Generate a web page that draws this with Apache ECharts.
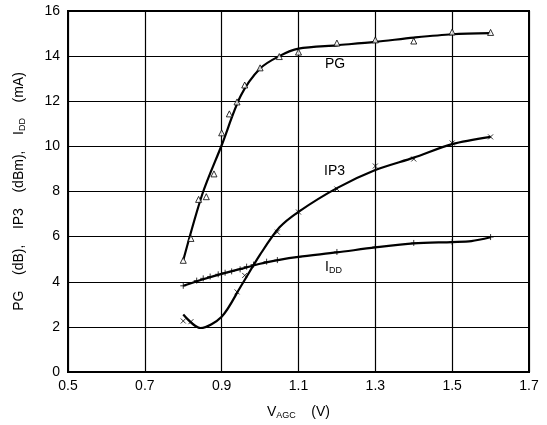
<!DOCTYPE html>
<html>
<head>
<meta charset="utf-8">
<script src="https://cdn.jsdelivr.net/npm/echarts@6/dist/echarts.min.js"></script>
<style>
  html, body { margin: 0; padding: 0; background: #fff; }
  #chart { width: 547px; height: 425px; }
</style>
</head>
<body>
<div id="chart"></div>
<script>
  // 测量点 (V_AGC, 值)
  var pgPoints = [[0.80, 4.95], [0.82, 5.92], [0.84, 7.65], [0.86, 7.77], [0.88, 8.78], [0.90, 10.6],
    [0.92, 11.44], [0.94, 11.97], [0.96, 12.72], [1.00, 13.48], [1.05, 13.98], [1.10, 14.18],
    [1.20, 14.58], [1.30, 14.72], [1.40, 14.67], [1.50, 15.07], [1.60, 15.05]]
  var ip3Points = [[0.80, 2.26], [0.82, 2.23], [0.94, 3.55], [0.96, 4.28], [1.045, 6.2], [1.10, 7.09],
    [1.20, 8.11], [1.30, 9.13], [1.40, 9.44], [1.50, 10.15], [1.60, 10.42]]
  var iddPoints = [[0.80, 3.82], [0.835, 4.05], [0.852, 4.15], [0.87, 4.23], [0.891, 4.33], [0.909, 4.40],
    [0.926, 4.46], [0.948, 4.55], [0.965, 4.67], [0.983, 4.76], [1.017, 4.89], [1.045, 4.96],
    [1.10, 5.1], [1.20, 5.32], [1.30, 5.54], [1.40, 5.72], [1.50, 5.76], [1.60, 5.98]]

  // 拟合曲线
  var pgCurve = [[0.80, 4.95], [0.85, 7.9], [0.90, 10.05], [0.95, 12.25], [1.00, 13.45], [1.05, 14.0],
    [1.10, 14.33], [1.20, 14.48], [1.30, 14.63], [1.40, 14.82], [1.50, 14.97], [1.60, 15.02]]
  var ip3Curve = [[0.80, 2.55], [0.845, 1.95], [0.90, 2.45], [0.95, 3.8], [1.00, 5.2], [1.05, 6.4],
    [1.10, 7.1], [1.20, 8.15], [1.30, 8.95], [1.40, 9.5], [1.50, 10.1], [1.60, 10.42]]
  var iddCurve = [[0.80, 3.82], [0.85, 4.1], [0.90, 4.35], [0.95, 4.57], [1.00, 4.8], [1.05, 4.97],
    [1.10, 5.1], [1.20, 5.3], [1.30, 5.52], [1.40, 5.7], [1.50, 5.76], [1.55, 5.8], [1.60, 5.97]]

  var xTicks = [0.5, 0.7, 0.9, 1.1, 1.3, 1.5, 1.7]
  var yTicks = [0, 2, 4, 6, 8, 10, 12, 14, 16]

  var font = 'Liberation Sans, Arial, sans-serif'
  var crossPath = 'path://M0,0L10,10M10,0L0,10'
  var plusPath = 'path://M5,0L5,10M0,5L10,5'

  var charts = echarts.init(document.getElementById('chart'))

  function curve(data) {
    return {
      type: 'line',
      data: data,
      smooth: 0.3,
      showSymbol: false,
      silent: true,
      lineStyle: { color: '#000', width: 2.2 },
      z: 3
    }
  }
  function marks(data, symbol, size, fill) {
    return {
      type: 'scatter',
      data: data,
      symbol: symbol,
      symbolSize: size,
      itemStyle: { color: fill, borderColor: '#000', borderWidth: 1 },
      z: 4
    }
  }

  var sub = {
    n: { fontSize: 14, fontFamily: font, color: '#000' },
    s: { fontSize: 9, fontFamily: font, color: '#000', padding: [7, 0, 0, 0] }
  }

  var option = {
    backgroundColor: '#fff',
    animation: false,
    grid: { left: 68, right: 18, top: 11, bottom: 53, show: true, borderColor: '#000', borderWidth: 2 },
    xAxis: {
      type: 'value',
      min: xTicks[0],
      max: xTicks[xTicks.length - 1],
      interval: 0.2,
      name: '{n|V}{s|AGC}{n|    (V)}',
      nameLocation: 'middle',
      nameGap: 32,
      nameTextStyle: { rich: sub },
      axisLine: { show: true, lineStyle: { color: '#000', width: 2 } },
      axisTick: { show: false },
      axisLabel: {
        color: '#000', fontSize: 14, fontFamily: font, margin: 7,
        formatter: function (v) { return v.toFixed(1) }
      },
      splitLine: { show: true, lineStyle: { color: '#000', width: 1.2 } }
    },
    yAxis: {
      type: 'value',
      min: yTicks[0],
      max: yTicks[yTicks.length - 1],
      interval: 2,
      name: '{n|PG    (dB),    IP3    (dBm),    I}{s|DD}{n|    (mA)}',
      nameLocation: 'middle',
      nameRotate: 90,
      nameGap: 41,
      nameTextStyle: { rich: sub },
      axisLine: { show: true, lineStyle: { color: '#000', width: 2 } },
      axisTick: { show: false },
      axisLabel: { color: '#000', fontSize: 14, fontFamily: font, margin: 8 },
      splitLine: { show: true, lineStyle: { color: '#000', width: 1.2 } }
    },
    graphic: [
      { type: 'text', left: 325, top: 57, style: { text: 'PG', fontSize: 14, fontFamily: font, fill: '#000' } },
      { type: 'text', left: 324, top: 164, style: { text: 'IP3', fontSize: 14, fontFamily: font, fill: '#000' } },
      {
        type: 'text', left: 325, top: 260,
        style: {
          text: '{n|I}{s|DD}',
          rich: {
            n: { fontSize: 14, fontFamily: font, fill: '#000' },
            s: { fontSize: 9, fontFamily: font, fill: '#000', padding: [7, 0, 0, 0] }
          }
        }
      }
    ],
    series: [
      curve(pgCurve),
      curve(ip3Curve),
      curve(iddCurve),
      marks(pgPoints, 'triangle', 6, '#fff'),
      marks(ip3Points, crossPath, 5, 'none'),
      marks(iddPoints, plusPath, 6, 'none')
    ]
  }
  charts.setOption(option)
  window.addEventListener('resize', () => {
    charts.resize()
  })
</script>
</body>
</html>
